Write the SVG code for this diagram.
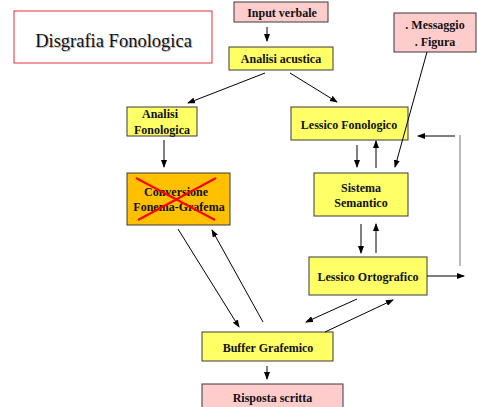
<svg xmlns="http://www.w3.org/2000/svg" width="477" height="407" viewBox="0 0 477 407">
<defs>
<marker id="ah" markerWidth="8" markerHeight="6" refX="7" refY="3" orient="auto" markerUnits="userSpaceOnUse">
<path d="M0,0 L8,3 L0,6 Z" fill="#000"/>
</marker>
<style>
.lbl{font-family:"Liberation Serif","Times New Roman",serif;font-weight:bold;font-size:12px;fill:#111;text-anchor:middle}
.yel{fill:#FFFF66;stroke:#3a3a3a;stroke-width:1}
.pink{fill:#FFCCCC;stroke:#3a3a3a;stroke-width:1}
.conn line{stroke:#000;stroke-width:1;fill:none}
.arr{marker-end:url(#ah)}
</style>
</defs>
<rect width="477" height="407" fill="#fff"/>
<g id="title">
<rect x="14" y="11" width="198" height="52" fill="#fff" stroke="#E0303A" stroke-width="1"/>
<text x="114.5" y="47.5" font-family="'Liberation Serif','Times New Roman',serif" font-size="18.5" fill="#bbb" text-anchor="middle">Disgrafia Fonologica</text>
<text x="113.5" y="46.5" font-family="'Liberation Serif','Times New Roman',serif" font-size="18.5" fill="#111" text-anchor="middle">Disgrafia Fonologica</text>
</g>
<g id="input-verbale">
<rect class="pink" x="234" y="2" width="94" height="20"/>
<text class="lbl" x="282" y="16.5">Input verbale</text>
</g>
<g id="analisi-acustica">
<rect class="yel" x="229" y="47" width="104" height="23"/>
<text class="lbl" x="281" y="62.5">Analisi  acustica</text>
</g>
<g id="messaggio">
<rect class="pink" x="394" y="13" width="82" height="39"/>
<text class="lbl" x="435" y="29">. Messaggio</text>
<text class="lbl" x="435" y="46">. Figura</text>
</g>
<g id="analisi-fonologica">
<rect class="yel" x="127" y="107" width="70" height="29"/>
<text class="lbl" x="160" y="118">Analisi</text>
<text class="lbl" x="162" y="134">Fonologica</text>
</g>
<g id="lessico-fonologico">
<rect class="yel" x="291" y="107" width="117" height="33"/>
<text class="lbl" x="349" y="129">Lessico Fonologico</text>
</g>
<g id="sistema-semantico">
<rect class="yel" x="314" y="173" width="94" height="43"/>
<text class="lbl" x="361" y="192">Sistema</text>
<text class="lbl" x="361" y="207">Semantico</text>
</g>
<g id="conversione">
<rect x="127" y="173" width="103" height="52" fill="#FFC000" stroke="#3a3a3a" stroke-width="1"/>
<text class="lbl" x="176" y="196">Conversione</text>
<text class="lbl" x="179" y="211">Fonema-Grafema</text>
<line x1="136" y1="178" x2="215" y2="220" stroke="#FF0000" stroke-width="2"/>
<line x1="216" y1="178" x2="138" y2="220" stroke="#FF0000" stroke-width="2"/>
</g>
<g id="lessico-ortografico">
<rect class="yel" x="309" y="257" width="118" height="38"/>
<text class="lbl" x="368" y="281">Lessico Ortografico</text>
</g>
<g id="buffer-grafemico">
<rect class="yel" x="202" y="332" width="131" height="29"/>
<text class="lbl" x="268" y="352">Buffer Grafemico</text>
</g>
<g id="risposta-scritta">
<rect class="pink" x="202" y="384" width="141" height="30"/>
<text class="lbl" x="272.5" y="402">Risposta scritta</text>
</g>
<g id="connectors" class="conn">
<line class="arr" x1="267" y1="27" x2="267" y2="41"/>
<line class="arr" x1="265" y1="73" x2="188" y2="103"/>
<line class="arr" x1="290" y1="73" x2="337" y2="102"/>
<line class="arr" x1="427" y1="52" x2="395" y2="167"/>
<line class="arr" x1="164" y1="140" x2="164" y2="167"/>
<line class="arr" x1="357" y1="145" x2="357" y2="167"/>
<line class="arr" x1="376" y1="168" x2="376" y2="141"/>
<line class="arr" x1="455" y1="136" x2="418" y2="136"/>
<line x1="460" y1="135" x2="460" y2="266" style="stroke:#777"/>
<line class="arr" x1="361" y1="224" x2="361" y2="253"/>
<line class="arr" x1="376" y1="253" x2="376" y2="224"/>
<line class="arr" x1="427" y1="276" x2="464" y2="276"/>
<line class="arr" x1="357" y1="299" x2="306" y2="322"/>
<line class="arr" x1="325" y1="332" x2="393" y2="300"/>
<line class="arr" x1="178" y1="229" x2="239" y2="327"/>
<line class="arr" x1="263" y1="322" x2="212" y2="230"/>
<line class="arr" x1="267" y1="366" x2="267" y2="379"/>
</g>
</svg>
